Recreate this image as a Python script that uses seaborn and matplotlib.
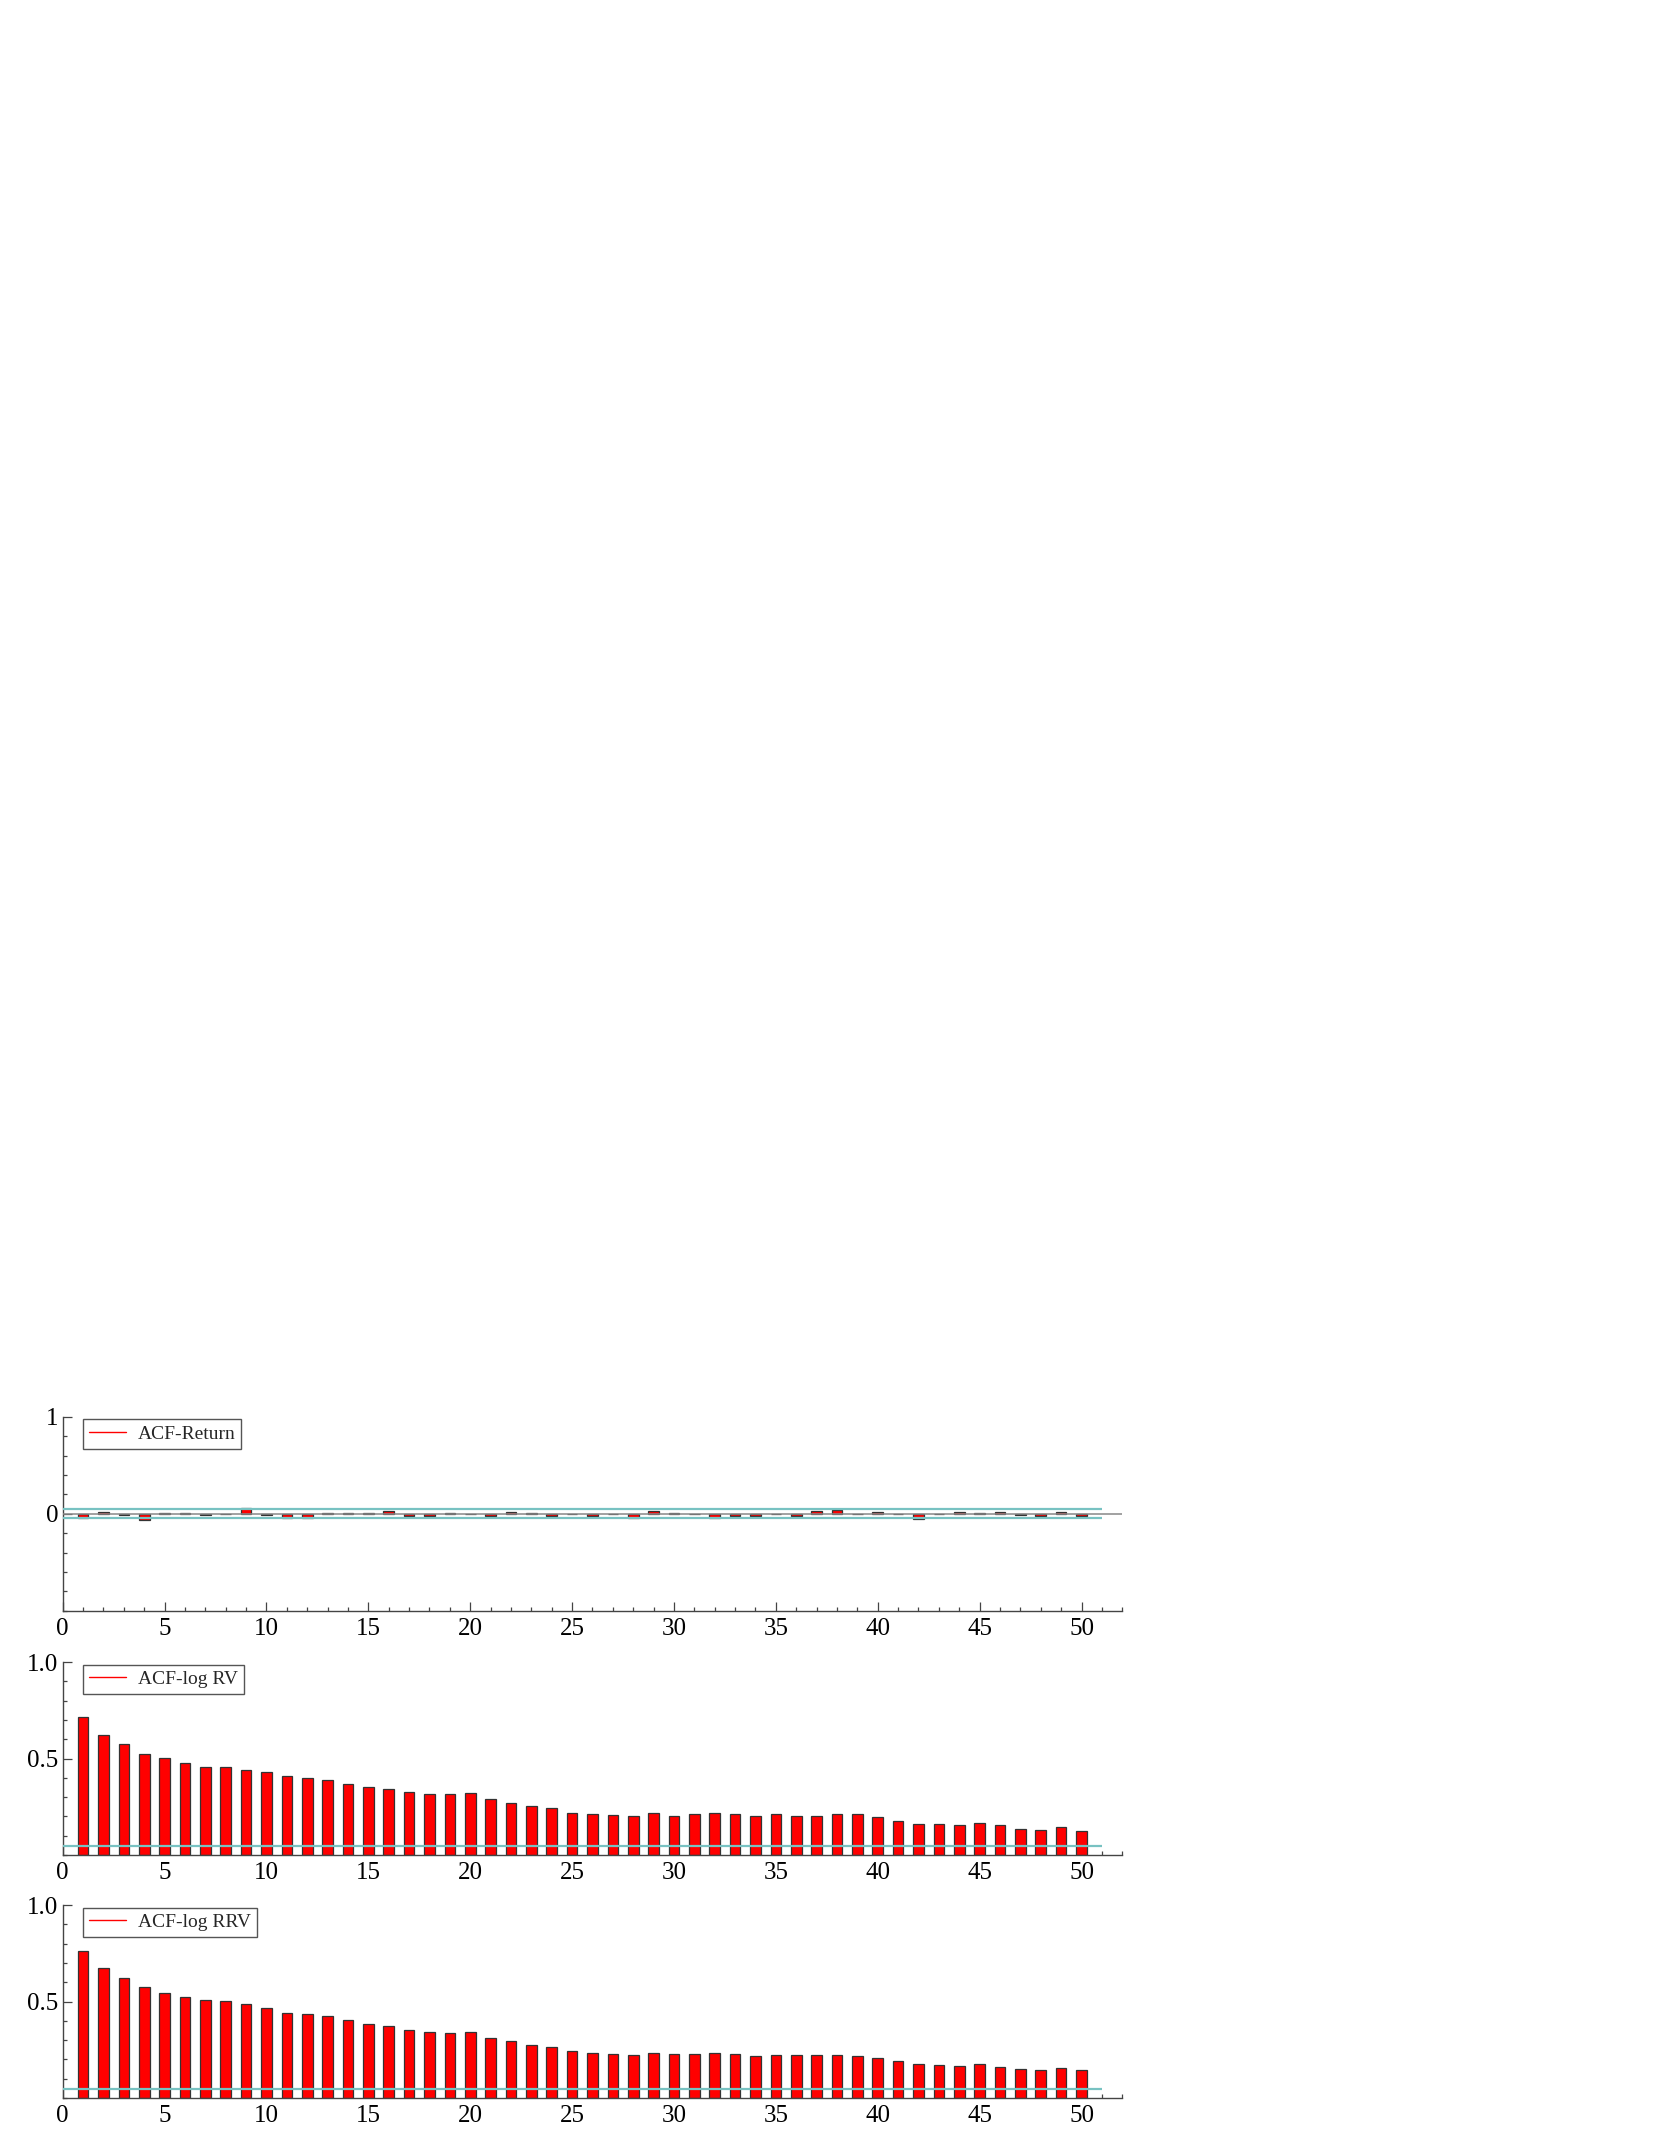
import numpy as np
import seaborn as sns
import matplotlib.pyplot as plt
from matplotlib.lines import Line2D
from matplotlib.ticker import FixedLocator, MultipleLocator

# # # ACF values, lags 1..50 # # #

lags = list(range(1, 51))

acf_return = [-0.040, 0.017, -0.010, -0.068, 0.010, 0.007, -0.012, -0.003, 0.058, -0.012,
              -0.040, -0.043, 0.006, 0.007, 0.009, 0.030, -0.020, -0.022, 0.004, -0.003,
              -0.020, 0.020, 0.014, -0.020, -0.004, -0.018, -0.003, -0.040, 0.030, 0.010,
              -0.002, -0.043, -0.017, -0.022, 0.002, -0.020, 0.033, 0.043, -0.003, 0.020,
              -0.002, -0.055, 0.002, 0.020, 0.013, 0.020, -0.008, -0.023, 0.020, -0.023]

acf_logrv = [0.713, 0.622, 0.576, 0.521, 0.503, 0.478, 0.457, 0.454, 0.443, 0.428,
             0.407, 0.400, 0.387, 0.368, 0.354, 0.342, 0.326, 0.316, 0.318, 0.320,
             0.289, 0.268, 0.254, 0.246, 0.220, 0.213, 0.205, 0.204, 0.220, 0.203,
             0.210, 0.216, 0.213, 0.203, 0.210, 0.204, 0.201, 0.210, 0.210, 0.198,
             0.177, 0.163, 0.162, 0.156, 0.167, 0.158, 0.137, 0.129, 0.144, 0.127]

acf_logrrv = [0.763, 0.674, 0.622, 0.574, 0.546, 0.524, 0.510, 0.503, 0.488, 0.467,
              0.443, 0.436, 0.423, 0.402, 0.383, 0.373, 0.354, 0.344, 0.338, 0.342,
              0.313, 0.297, 0.277, 0.265, 0.244, 0.232, 0.229, 0.222, 0.235, 0.227,
              0.229, 0.235, 0.230, 0.220, 0.222, 0.223, 0.223, 0.225, 0.220, 0.208,
              0.191, 0.177, 0.172, 0.168, 0.177, 0.163, 0.151, 0.143, 0.155, 0.143]

series_names = ['ACF-Return', 'ACF-log RV', 'ACF-log RRV']
band = 0.046  # confidence band

# # # Figure setup # # #

sns.set_theme(style='ticks')
plt.rcParams['font.family'] = ['Liberation Serif', 'DejaVu Serif']

fig = plt.figure(figsize=(16.61, 21.49), dpi=100)
left, width = 0.03775, 0.6379
ax1 = fig.add_axes([left, 0.2504, width, 0.0903])
ax2 = fig.add_axes([left, 0.1368, width, 0.0898])
ax3 = fig.add_axes([left, 0.0237, width, 0.0898])

teal = '#78c2c2'
spine_col = '#444444'

for ax, vals, name in zip([ax1, ax2, ax3], [acf_return, acf_logrv, acf_logrrv], series_names):
    sns.barplot(x=lags, y=vals, native_scale=True, width=0.52, color='red', saturation=1,
                edgecolor='#333333', linewidth=0.9, errorbar=None, ax=ax, zorder=2)

    if ax is ax1:
        ax.axhline(0, color='#888888', lw=1.1, zorder=3)
        ax.hlines([band, -band], 0, 51, color=teal, lw=1.6, zorder=4)
        ax.set_ylim(-1, 1)
        ax.set_yticks([0, 1])
        ax.set_yticklabels(['0', '1'])
        ax.yaxis.set_minor_locator(FixedLocator(np.arange(-1, 1.01, 0.2)))
    else:
        ax.hlines(band, 0, 51, color=teal, lw=1.6, zorder=4)
        ax.set_ylim(0, 1)
        ax.set_yticks([0.5, 1.0])
        ax.set_yticklabels(['0.5', '1.0'])
        ax.yaxis.set_minor_locator(FixedLocator(np.arange(0, 1.01, 0.1)))

    ax.set_xlim(0, 52)
    ax.set_xticks(range(0, 51, 5))
    ax.set_xticklabels([str(t) for t in range(0, 51, 5)])
    ax.xaxis.set_minor_locator(MultipleLocator(1))
    ax.set_xlabel('')
    ax.set_ylabel('')

    sns.despine(ax=ax)
    for s in ['left', 'bottom']:
        ax.spines[s].set_color(spine_col)
        ax.spines[s].set_linewidth(1.0)

    ax.tick_params(which='both', direction='in', color=spine_col, width=0.9, labelcolor='black',
                   labelsize=18)
    ax.tick_params(which='major', length=6.5)
    ax.tick_params(which='minor', length=3.2)
    ax.tick_params(axis='x', pad=5)
    ax.tick_params(axis='y', pad=3)

    # legend shows a red line sample, as in the original
    handle = Line2D([], [], color='red', lw=1.0)
    leg = ax.legend(handles=[handle], labels=[name], loc='upper left',
                    bbox_to_anchor=(0.0195, 0.987), borderaxespad=0, fancybox=False,
                    edgecolor='#555555', framealpha=1, fontsize=14, handlelength=1.9,
                    borderpad=0.3, handletextpad=0.6)
    leg.get_frame().set_linewidth(1.0)

fig.savefig('out.png', dpi=100)
